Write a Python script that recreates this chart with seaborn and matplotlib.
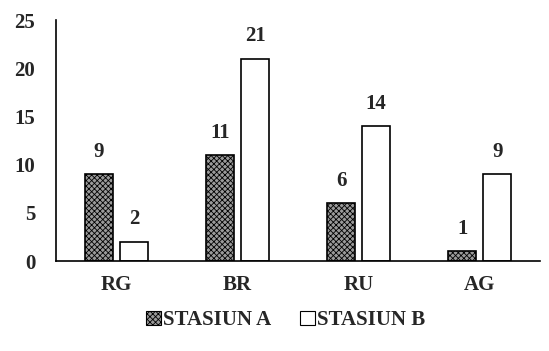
import pandas as pd
import matplotlib
matplotlib.use("Agg")
import matplotlib.pyplot as plt
import seaborn as sns
from matplotlib.patches import Patch

# data
stations = ["RG", "BR", "RU", "AG"]
stasiun_a = [9, 11, 6, 1]
stasiun_b = [2, 21, 14, 9]
series_names = ["STASIUN A", "STASIUN B"]
y_ticks = [0, 5, 10, 15, 20, 25]

df = pd.DataFrame({
    "site": stations * 2,
    "count": stasiun_a + stasiun_b,
    "series": [series_names[0]] * len(stations) + [series_names[1]] * len(stations),
})

sns.set_theme(style="white")
plt.rcParams["font.family"] = ["Liberation Serif", "DejaVu Serif"]
plt.rcParams["font.weight"] = "bold"
plt.rcParams["hatch.linewidth"] = 0.6

fig = plt.figure(figsize=(5.49, 3.51), dpi=100)
ax = fig.add_axes([0.102, 0.256, 0.882, 0.687])

sns.barplot(data=df, x="site", y="count", hue="series", order=stations,
            hue_order=series_names, palette=["white", "white"],
            width=0.58, gap=0.21, edgecolor="black", linewidth=1.2,
            legend=False, ax=ax)

# checkered fill for station A
for bar in ax.containers[0]:
    bar.set_facecolor("#9a9a9a")
    bar.set_hatch("xxxxxx")

for cont in ax.containers:
    ax.bar_label(cont, padding=9, fontsize=15, fontweight="bold")

ax.set_ylim(0, 25)
ax.set_xlim(-0.5, 3.5)
ax.set_yticks(y_ticks)
ax.set_xlabel("")
ax.set_ylabel("")
ax.tick_params(axis="y", length=0, pad=15, labelsize=15)
ax.tick_params(axis="x", length=0, pad=10, labelsize=15)
for lab in ax.get_xticklabels() + ax.get_yticklabels():
    lab.set_fontweight("bold")

sns.despine(ax=ax, top=True, right=True)
for side in ["left", "bottom"]:
    ax.spines[side].set_color("black")
    ax.spines[side].set_linewidth(1.2)

handles = [Patch(facecolor="#9a9a9a", edgecolor="black", hatch="xxxxxx", linewidth=0.8),
           Patch(facecolor="white", edgecolor="black", linewidth=0.8)]
fig.legend(handles, series_names, loc="center", bbox_to_anchor=(0.52, 0.088),
           ncol=2, frameon=False, handlelength=0.7, handleheight=0.7,
           handletextpad=0.1, columnspacing=1.4,
           prop={"family": "Liberation Serif", "weight": "bold", "size": 15})

fig.savefig("out.png", dpi=100)
